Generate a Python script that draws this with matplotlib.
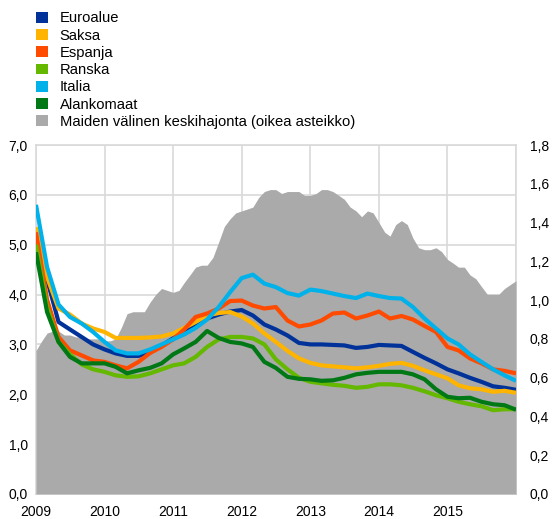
import pandas as pd
import numpy as np
import matplotlib
matplotlib.use("Agg")
import matplotlib.pyplot as plt
from matplotlib.patches import Patch
from matplotlib.ticker import FuncFormatter

plt.rcParams['font.family'] = ['Liberation Sans', 'DejaVu Sans']
plt.rcParams['font.size'] = 10

# --- Data ---
# bimonthly yields, % (left axis)
dates_ln = pd.date_range("2009-01-01", "2016-01-01", freq="2MS")

euroalue = [5.10, 4.30, 3.45, 3.30, 3.15, 3.00, 2.90, 2.82, 2.77, 2.77, 2.85,
            2.98, 3.12, 3.25, 3.42, 3.52, 3.60, 3.66, 3.69, 3.58, 3.40, 3.30,
            3.18, 3.03, 3.00, 3.00, 2.99, 2.98, 2.93, 2.95, 2.99, 2.98, 2.97,
            2.85, 2.73, 2.62, 2.50, 2.42, 2.33, 2.25, 2.16, 2.13, 2.09]
saksa = [5.35, 4.35, 3.72, 3.60, 3.42, 3.32, 3.25, 3.13, 3.13, 3.13, 3.14,
         3.16, 3.22, 3.33, 3.45, 3.58, 3.63, 3.65, 3.56, 3.42, 3.22, 3.05,
         2.87, 2.72, 2.63, 2.58, 2.56, 2.54, 2.52, 2.54, 2.57, 2.61, 2.63,
         2.57, 2.48, 2.40, 2.32, 2.18, 2.12, 2.10, 2.05, 2.07, 2.03]
espanja = [5.25, 3.90, 3.15, 2.88, 2.78, 2.68, 2.65, 2.58, 2.52, 2.65, 2.83,
           2.95, 3.10, 3.30, 3.55, 3.62, 3.72, 3.87, 3.88, 3.78, 3.72, 3.75,
           3.48, 3.36, 3.40, 3.48, 3.62, 3.64, 3.52, 3.58, 3.66, 3.52, 3.57,
           3.50, 3.37, 3.25, 2.95, 2.88, 2.72, 2.62, 2.50, 2.47, 2.42]
ranska = [5.00, 3.75, 3.05, 2.80, 2.60, 2.50, 2.45, 2.38, 2.35, 2.36, 2.42,
          2.50, 2.58, 2.62, 2.75, 2.95, 3.10, 3.15, 3.15, 3.12, 3.00, 2.70,
          2.50, 2.33, 2.25, 2.22, 2.19, 2.17, 2.13, 2.15, 2.20, 2.20, 2.18,
          2.13, 2.06, 1.98, 1.92, 1.85, 1.80, 1.76, 1.68, 1.70, 1.70]
italia = [5.80, 4.55, 3.80, 3.55, 3.42, 3.25, 3.05, 2.88, 2.82, 2.82, 2.90,
          3.00, 3.10, 3.20, 3.33, 3.50, 3.75, 4.05, 4.33, 4.40, 4.22, 4.15,
          4.03, 3.98, 4.10, 4.07, 4.02, 3.97, 3.93, 4.02, 3.97, 3.93, 3.92,
          3.75, 3.52, 3.32, 3.12, 3.00, 2.80, 2.65, 2.50, 2.38, 2.27]
alankomaat = [4.85, 3.65, 3.05, 2.75, 2.62, 2.62, 2.62, 2.55, 2.42, 2.48, 2.53,
              2.62, 2.80, 2.92, 3.05, 3.27, 3.13, 3.05, 3.02, 2.95, 2.65, 2.53,
              2.35, 2.31, 2.30, 2.27, 2.28, 2.33, 2.40, 2.43, 2.45, 2.45, 2.45,
              2.40, 2.30, 2.10, 1.95, 1.92, 1.93, 1.85, 1.80, 1.78, 1.69]

# monthly cross-country standard deviation (right axis)
dates_sd = pd.date_range("2009-01-01", "2016-01-01", freq="MS")
hajonta = [0.74, 0.79, 0.83, 0.84, 0.84, 0.82, 0.82, 0.81, 0.81, 0.80, 0.80,
           0.80, 0.79, 0.79, 0.80, 0.86, 0.93, 0.94, 0.94, 0.94, 0.99, 1.03,
           1.06, 1.05, 1.04, 1.05, 1.09, 1.13, 1.17, 1.18, 1.18, 1.22, 1.30,
           1.38, 1.42, 1.45, 1.46, 1.47, 1.48, 1.53, 1.56, 1.57, 1.57, 1.55,
           1.56, 1.56, 1.56, 1.54, 1.54, 1.55, 1.57, 1.57, 1.56, 1.54, 1.52,
           1.48, 1.46, 1.43, 1.46, 1.45, 1.40, 1.35, 1.33, 1.39, 1.41, 1.39,
           1.32, 1.27, 1.26, 1.26, 1.27, 1.25, 1.21, 1.19, 1.17, 1.17, 1.13,
           1.11, 1.07, 1.03, 1.03, 1.03, 1.06, 1.08, 1.10]

labels = ["Euroalue", "Saksa", "Espanja", "Ranska", "Italia", "Alankomaat",
          "Maiden välinen keskihajonta (oikea asteikko)"]
colors = ["#003299", "#FFB400", "#FF4B00", "#65B800", "#00B1EA", "#007816",
          "#AAAAAA"]
series = [euroalue, saksa, espanja, ranska, italia, alankomaat]

left_ticks = [0, 1, 2, 3, 4, 5, 6, 7]
right_ticks = [0.0, 0.2, 0.4, 0.6, 0.8, 1.0, 1.2, 1.4, 1.6, 1.8]
years = list(range(2009, 2017))

comma = FuncFormatter(lambda v, p: f"{v:.1f}".replace(".", ","))
grid_col = "#D9D9D9"

fig = plt.figure(figsize=(5.52, 5.19), dpi=100)
ax = fig.add_axes([0.0652, 0.0482, 0.8696, 0.6724])

# bottom layer: grid + left axis + years
xmin, xmax = pd.Timestamp("2009-01-01"), pd.Timestamp("2016-01-01")
ax.set_xlim(xmin, xmax)
ax.set_ylim(0, 7)
ax.set_yticks(left_ticks)
ax.yaxis.set_major_formatter(comma)
year_ticks = [pd.Timestamp(f"{y}-01-01") for y in years]
ax.set_xticks(year_ticks)
ax.set_xticklabels([str(y) for y in years[:-1]] + [""])
ax.grid(True, color=grid_col, lw=1.2)
ax.tick_params(length=0, labelsize=10)
ax.tick_params(axis="y", pad=6)
ax.tick_params(axis="x", pad=8)
for s in ax.spines.values():
    s.set_color(grid_col)
    s.set_linewidth(1.2)

# middle layer: standard deviation, right axis
ax_sd = ax.twinx()
ax_sd.fill_between(dates_sd, 0, hajonta, color=colors[-1], lw=0)
ax_sd.set_ylim(0, 1.8)
ax_sd.set_yticks(right_ticks)
ax_sd.yaxis.set_major_formatter(comma)
ax_sd.tick_params(length=0, labelsize=10, pad=10)
for s in ax_sd.spines.values():
    s.set_visible(False)

# top layer: yields on left scale
ax_ln = ax.twinx()
for vals, c in zip(series, colors):
    ax_ln.plot(dates_ln, vals, color=c, lw=3, solid_capstyle="butt")
ax_ln.set_ylim(0, 7)
ax_ln.set_xlim(xmin, xmax)
ax_ln.yaxis.set_visible(False)
for s in ax_ln.spines.values():
    s.set_visible(False)

handles = [Patch(facecolor=c, edgecolor="none") for c in colors]
fig.legend(handles, labels, loc="upper left", bbox_to_anchor=(0.0652, 0.978),
           frameon=False, fontsize=10.6, handlelength=0.82, handleheight=0.75,
           handletextpad=0.8, labelspacing=0.22, borderpad=0, borderaxespad=0)

fig.savefig("out.png", dpi=100)
